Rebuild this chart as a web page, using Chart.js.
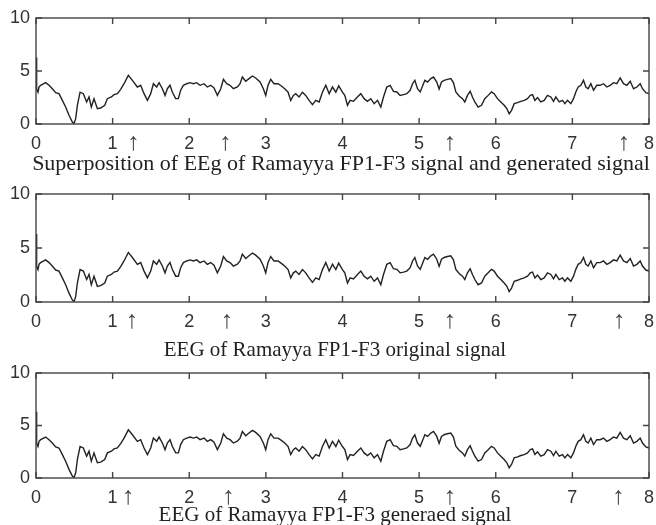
<!DOCTYPE html>
<html>
<head>
<meta charset="utf-8">
<script src="https://cdn.jsdelivr.net/npm/chart.js@4.4.1/dist/chart.umd.min.js"></script>
<style>
  body { margin: 0; background: #fff; }
  #wrap { position: relative; width: 656px; height: 525px; overflow: hidden; }
  .panel { position: absolute; left: 0; width: 656px; }
  .caption {
    position: absolute; left: 0; width: 682px; text-align: center;
    font-family: "Liberation Serif", "Times New Roman", serif;
    font-size: 21px; line-height: 21px; color: #222; white-space: nowrap;
  }
</style>
</head>
<body>
<div id="wrap">
  <div class="panel" style="top:0px;height:160px"><canvas id="eeg1"></canvas></div>
  <div class="caption" style="top:152px;font-size:22px;line-height:22px">Superposition of EEg of Ramayya FP1-F3 signal and generated signal</div>
  <div class="panel" style="top:176px;height:162px"><canvas id="eeg2"></canvas></div>
  <div class="caption" style="top:339px;width:670px">EEG of Ramayya FP1-F3 original signal</div>
  <div class="panel" style="top:355px;height:159px"><canvas id="eeg3"></canvas></div>
  <div class="caption" style="top:504px;width:670px">EEG of Ramayya FP1-F3 generaed signal</div>
</div>
<script>
// time (s) and amplitude
var eegTime = [0, 0.004, 0.008, 0.013, 0.026, 0.04, 0.061, 0.126, 0.170, 0.213, 0.257, 0.300, 0.344, 0.387, 0.431, 0.474, 0.496, 0.518, 0.540, 0.575, 0.618, 0.661, 0.692, 0.722, 0.757, 0.801, 0.844, 0.897, 0.931, 0.984, 1.018, 1.062, 1.105, 1.149, 1.205, 1.258, 1.323, 1.366, 1.410, 1.454, 1.497, 1.532, 1.575, 1.606, 1.649, 1.684, 1.714, 1.749, 1.780, 1.823, 1.858, 1.888, 1.923, 1.967, 2.010, 2.054, 2.097, 2.141, 2.193, 2.236, 2.280, 2.323, 2.367, 2.411, 2.446, 2.489, 2.532, 2.576, 2.628, 2.663, 2.693, 2.737, 2.780, 2.824, 2.867, 2.924, 2.967, 2.998, 3.028, 3.063, 3.106, 3.159, 3.202, 3.246, 3.290, 3.324, 3.359, 3.390, 3.433, 3.477, 3.520, 3.564, 3.608, 3.651, 3.695, 3.738, 3.782, 3.826, 3.869, 3.913, 3.950, 3.999, 4.030, 4.065, 4.099, 4.143, 4.195, 4.239, 4.282, 4.326, 4.369, 4.413, 4.457, 4.500, 4.535, 4.578, 4.622, 4.665, 4.709, 4.752, 4.796, 4.839, 4.883, 4.914, 4.944, 4.979, 5.014, 5.049, 5.075, 5.110, 5.153, 5.188, 5.230, 5.261, 5.292, 5.326, 5.370, 5.413, 5.448, 5.479, 5.522, 5.566, 5.596, 5.631, 5.666, 5.696, 5.727, 5.770, 5.814, 5.857, 5.901, 5.944, 5.979, 6.023, 6.066, 6.110, 6.145, 6.175, 6.206, 6.241, 6.284, 6.328, 6.371, 6.415, 6.450, 6.480, 6.511, 6.545, 6.588, 6.632, 6.675, 6.719, 6.754, 6.784, 6.828, 6.871, 6.902, 6.937, 6.980, 7.015, 7.045, 7.076, 7.111, 7.145, 7.176, 7.206, 7.241, 7.276, 7.319, 7.363, 7.406, 7.450, 7.493, 7.537, 7.580, 7.624, 7.667, 7.711, 7.755, 7.798, 7.842, 7.885, 7.915, 7.959, 8.0];
var eegSignal = [4.0, 6.3, 4.5, 3.3, 3.0, 3.5, 3.65, 3.9, 3.65, 3.33, 2.96, 2.86, 2.23, 1.6, 0.82, 0.19, 0.03, 0.5, 1.76, 3.0, 2.86, 2.08, 2.55, 1.6, 2.39, 1.45, 1.51, 1.76, 2.39, 2.55, 2.77, 2.86, 3.27, 3.8, 4.59, 4.12, 3.49, 3.65, 2.86, 2.23, 2.86, 3.8, 3.49, 3.9, 3.33, 2.7, 3.33, 3.65, 3.0, 2.39, 2.39, 3.18, 3.65, 3.8, 3.9, 3.8, 3.9, 3.65, 3.8, 3.49, 3.65, 3.4, 2.7, 3.33, 4.21, 3.8, 3.65, 3.33, 3.5, 3.8, 4.43, 4.03, 4.28, 4.53, 4.34, 3.96, 3.33, 2.7, 3.65, 4.21, 3.8, 3.8, 3.58, 3.33, 3.0, 2.23, 2.7, 2.86, 2.55, 3.0, 2.7, 2.23, 1.82, 2.23, 2.08, 3.0, 3.65, 2.86, 3.49, 3.0, 3.6, 3.0, 2.7, 1.76, 2.23, 2.14, 2.55, 2.86, 2.39, 2.14, 2.39, 1.92, 2.23, 1.6, 2.55, 3.49, 3.65, 3.08, 3.02, 2.7, 2.77, 2.86, 3.18, 3.8, 4.12, 3.33, 3.02, 3.65, 4.12, 3.96, 4.28, 4.43, 3.96, 3.3, 3.96, 4.12, 4.21, 4.28, 3.9, 3.02, 2.64, 2.39, 2.08, 2.7, 3.08, 2.55, 2.08, 1.6, 1.76, 2.39, 2.7, 3.02, 2.86, 2.39, 2.08, 1.76, 1.45, 0.97, 1.29, 1.92, 2.01, 2.14, 2.23, 2.39, 2.7, 2.77, 2.23, 2.5, 2.08, 2.23, 2.7, 2.55, 2.14, 2.55, 2.08, 2.23, 1.92, 2.23, 1.92, 2.39, 3.02, 3.49, 3.65, 4.12, 3.49, 3.33, 3.8, 3.18, 3.65, 3.65, 3.8, 3.49, 3.65, 3.9, 3.8, 4.34, 3.8, 3.65, 4.03, 3.33, 3.49, 3.8, 3.33, 2.96, 2.86];

var xTickValues = [0, 1, 2, 3, 4, 5, 6, 7, 8];
var yTickValues = [0, 5, 10];

// arrow marks under each time axis
var arrows1 = [1.27, 2.47, 5.4, 7.67];
var arrows2 = [1.25, 2.49, 5.4, 7.61];
var arrows3 = [1.2, 2.51, 5.4, 7.6];

var points = eegTime.map(function(t, i) {
    return { x: t, y: eegSignal[i] };
});

var framePlugin = {
    id: 'frame',
    afterDatasetsDraw: function(chart, args, opts) {
        var ctx = chart.ctx;
        var a = chart.chartArea;
        var xs = chart.scales.x;
        var ys = chart.scales.y;
        ctx.save();
        ctx.strokeStyle = '#444';
        ctx.lineWidth = 1.4;
        ctx.strokeRect(a.left, a.top, a.width, a.height);
        ctx.beginPath();
        xTickValues.forEach(function(v) {
            var px = xs.getPixelForValue(v);
            ctx.moveTo(px, a.bottom); ctx.lineTo(px, a.bottom - 6);
            ctx.moveTo(px, a.top); ctx.lineTo(px, a.top + 6);
        });
        yTickValues.forEach(function(v) {
            var py = ys.getPixelForValue(v);
            ctx.moveTo(a.left, py); ctx.lineTo(a.left + 6, py);
            ctx.moveTo(a.right, py); ctx.lineTo(a.right - 6, py);
        });
        ctx.stroke();
        ctx.fillStyle = '#444';
        ctx.font = '25px "Liberation Sans", Arial, sans-serif';
        ctx.textAlign = 'center';
        ctx.textBaseline = 'middle';
        opts.arrows.forEach(function(v) {
            ctx.fillText('\u2191', xs.getPixelForValue(v), a.bottom + 19);
        });
        ctx.restore();
    }
};

function makePanel(id, arrows) {
    var canvas = document.getElementById(id);
    return new Chart(canvas, {
        type: 'line',
        data: {
            datasets: [{
                data: points,
                borderColor: '#222',
                borderWidth: 1.4,
                pointRadius: 0,
                tension: 0,
                fill: false
            }]
        },
        options: {
            responsive: true,
            maintainAspectRatio: false,
            animation: false,
            layout: { padding: { top: 18, right: 0, left: 0, bottom: 0 } },
            plugins: {
                legend: { display: false },
                tooltip: { enabled: false },
                frame: { arrows: arrows }
            },
            scales: {
                x: {
                    type: 'linear',
                    min: 0,
                    max: 8,
                    afterFit: function(s) { s.height = 36; s.paddingRight = 7; },
                    afterBuildTicks: function(s) {
                        s.ticks = xTickValues.map(function(v) { return { value: v }; });
                    },
                    grid: { display: false, drawTicks: false },
                    border: { display: false },
                    ticks: {
                        padding: 9,
                        maxRotation: 0,
                        color: '#333',
                        font: { family: '"Liberation Sans", Arial, sans-serif', size: 18 }
                    }
                },
                y: {
                    min: 0,
                    max: 10,
                    afterFit: function(s) { s.width = 36; },
                    afterBuildTicks: function(s) {
                        s.ticks = yTickValues.map(function(v) { return { value: v }; });
                    },
                    grid: { display: false, drawTicks: false },
                    border: { display: false },
                    ticks: {
                        padding: 6,
                        color: '#333',
                        font: { family: '"Liberation Sans", Arial, sans-serif', size: 18 }
                    }
                }
            }
        },
        plugins: [framePlugin]
    });
}

makePanel('eeg1', arrows1);
makePanel('eeg2', arrows2);
makePanel('eeg3', arrows3);
</script>
</body>
</html>
